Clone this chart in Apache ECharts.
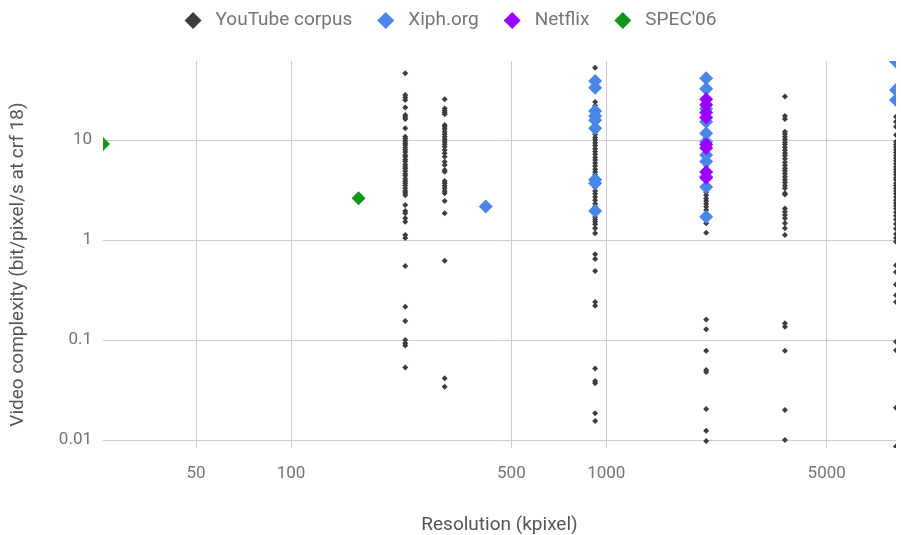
<!DOCTYPE html>
<html>
<head>
<meta charset="utf-8">
<script src="https://cdn.jsdelivr.net/npm/echarts@6/dist/echarts.min.js"></script>
<style>
  html, body { margin: 0; padding: 0; background: #fff; }
  #chart { width: 901px; height: 535px; }
</style>
</head>
<body>
<div id="chart"></div>
<script>
// resolutions in kpixel
var res4cif = 414.72, res360 = 230.4, res480 = 307.2, res720 = 921.6,
    res1080 = 2073.6, res1440 = 3686.4, res2160 = 8294.4;

// YouTube corpus, complexity per resolution column
var yt360 = [46.5, 28.2, 26.6, 25.1, 21.1, 17.8, 17.0, 16.2, 13.1, 10.8, 10.3, 9.8, 9.3, 8.9, 8.4, 8.0, 7.6, 7.1,
  6.8, 6.4, 6.1, 5.7, 5.4, 5.2, 4.9, 4.6, 4.4, 4.1, 3.9, 3.7, 3.5, 3.3, 3.1, 2.95, 2.8, 2.24, 1.95, 1.85, 1.65,
  1.52, 1.12, 1.05, 0.55, 0.215, 0.155, 0.1, 0.093, 0.088, 0.053];
var yt480 = [25.5, 20.7, 19.6, 18.9, 18.1, 14.1, 13.6, 12.9, 12.1, 11.4, 10.8, 10.2, 9.6, 9.06, 8.57, 7.94, 7.36,
  6.81, 6.07, 5.62, 5.01, 4.82, 3.89, 3.69, 3.49, 3.29, 3.09, 2.93, 2.45, 1.85, 0.62, 0.0414, 0.0341];
var yt720 = [52.8, 24, 22, 17, 14.5, 12.1, 11.4, 10.6, 10.0, 9.4, 8.8, 8.2, 7.7, 7.2, 6.7, 6.3, 5.9, 5.5, 5.1, 4.8,
  4.5, 4.2, 3.9, 3.6, 3.35, 3.1, 2.9, 2.7, 2.5, 2.3, 2.15, 2.0, 1.85, 1.7, 1.6, 1.52, 1.44, 1.31, 1.17, 0.72,
  0.645, 0.49, 0.24, 0.22, 0.052, 0.039, 0.037, 0.0185, 0.0155];
var yt1080 = [12, 9.2, 6.5, 5.5, 3.2, 3.0, 2.8, 2.6, 2.45, 2.3, 2.15, 2.0, 1.47, 1.18, 0.16, 0.128, 0.078, 0.05,
  0.048, 0.0204, 0.0124, 0.0098];
var yt1440 = [27.2, 17.4, 16.2, 12.1, 11.5, 10.8, 10.1, 9.5, 9.0, 8.4, 7.9, 7.4, 7.0, 6.5, 6.0, 5.6, 5.2, 4.9, 4.6,
  4.3, 4.0, 3.75, 3.5, 3.3, 2.93, 2.85, 2.07, 1.92, 1.78, 1.65, 1.47, 1.31, 1.12, 0.147, 0.136, 0.078, 0.02, 0.01];
var yt2160 = [17.1, 15.2, 13.6, 11.2, 9.6, 9.0, 8.5, 8.0, 7.5, 7.0, 6.6, 6.2, 5.8, 5.4, 5.1, 4.8, 4.5, 4.2, 4.0,
  3.7, 3.5, 3.3, 3.1, 2.9, 2.7, 2.5, 2.35, 2.2, 2.05, 1.9, 1.75, 1.6, 1.45, 1.3, 1.15, 1.05, 0.96, 0.56, 0.48,
  0.36, 0.28, 0.24, 0.096, 0.079, 0.021, 0.0086];

// Xiph.org
var xiph4cif = [2.17];
var xiph720 = [39, 33.3, 19.5, 17.4, 15.8, 13.1, 4.0, 3.7, 1.95];
var xiph1080 = [41.5, 32.5, 20.5, 15.2, 11.7, 9.6, 7.1, 6.1, 4.3, 3.4, 1.71];
var xiph2160 = [61, 31.6, 25.1];

// Netflix
var netflix1080 = [25.5, 22.5, 18.8, 16.8, 9.0, 8.3, 4.8, 4.2];

// SPEC'06
var specRes = [25.344, 163.84];
var specVal = [9.1, 2.61];

var xTicks = [50, 100, 500, 1000, 5000];
var yTicks = [0.01, 0.1, 1, 10];

function col(x, vals) {
    return vals.map(function (v) { return [x, v]; });
}

var ytData = [].concat(col(res360, yt360), col(res480, yt480), col(res720, yt720),
    col(res1080, yt1080), col(res1440, yt1440), col(res2160, yt2160));
var xiphData = [].concat(col(res4cif, xiph4cif), col(res720, xiph720),
    col(res1080, xiph1080), col(res2160, xiph2160));
var netflixData = col(res1080, netflix1080);
var specData = specRes.map(function (x, i) { return [x, specVal[i]]; });

var font = 'Roboto';
var gLeft = 103, gTop = 61, gWidth = 793, gHeight = 387;

// white masks so markers get cut at the plot edges
function mask(x, y, w, h) {
    return { type: 'rect', z: 100, silent: true, shape: { x: x, y: y, width: w, height: h }, style: { fill: '#fff' } };
}

var option = {
    animation: false,
    textStyle: { fontFamily: font },
    legend: {
        top: 6,
        left: 'center',
        icon: 'diamond',
        itemWidth: 17,
        itemHeight: 17,
        itemGap: 25,
        textStyle: { fontSize: 19, color: '#757575', fontFamily: font, padding: [0, 0, 0, 9] },
        data: ['YouTube corpus', 'Xiph.org', 'Netflix', "SPEC'06"]
    },
    grid: {
        left: gLeft, top: gTop, width: gWidth, height: gHeight,
        containLabel: false, outerBoundsMode: 'none'
    },
    graphic: [
        mask(gLeft - 9, gTop - 10, 9, gHeight + 20),
        mask(gLeft + gWidth, gTop - 10, 10, gHeight + 20),
        mask(gLeft - 9, gTop - 10, gWidth + 20, 10),
        mask(gLeft - 9, gTop + gHeight, gWidth + 20, 8)
    ],
    xAxis: {
        type: 'log',
        logBase: 10,
        min: 25.344,
        max: 8294.4,
        name: 'Resolution (kpixel)',
        nameLocation: 'middle',
        nameGap: 68,
        nameTextStyle: { fontSize: 19, color: '#555', fontFamily: font },
        axisLine: { show: false },
        axisTick: { show: false, customValues: xTicks },
        axisLabel: {
            customValues: xTicks,
            fontSize: 17, color: '#757575', margin: 17, fontFamily: font,
            formatter: function (v) { return String(v); }
        },
        splitLine: { show: true, lineStyle: { color: '#cccccc', width: 1 } }
    },
    yAxis: {
        type: 'log',
        logBase: 10,
        min: 0.00832,
        max: 61.7,
        name: 'Video complexity (bit/pixel/s at crf 18)',
        nameLocation: 'middle',
        nameGap: 75,
        nameTextStyle: { fontSize: 19, color: '#555', fontFamily: font, padding: [0, 20, 0, 0] },
        axisLine: { show: false },
        axisTick: { show: false, customValues: yTicks },
        axisLabel: {
            customValues: yTicks,
            fontSize: 17, color: '#757575', margin: 11, fontFamily: font,
            formatter: function (v) { return String(v); }
        },
        splitLine: { show: true, lineStyle: { color: '#cccccc', width: 1 } }
    },
    series: [
        {
            name: 'YouTube corpus', type: 'scatter', symbol: 'diamond', symbolSize: 6,
            itemStyle: { color: '#3d3d3d', opacity: 1 }, data: ytData
        },
        {
            name: 'Xiph.org', type: 'scatter', symbol: 'diamond', symbolSize: 14,
            itemStyle: { color: '#4a86e8', opacity: 1 }, data: xiphData
        },
        {
            name: 'Netflix', type: 'scatter', symbol: 'diamond', symbolSize: 14,
            itemStyle: { color: '#9900ff', opacity: 1 }, data: netflixData
        },
        {
            name: "SPEC'06", type: 'scatter', symbol: 'diamond', symbolSize: 14,
            itemStyle: { color: '#109618', opacity: 1 }, data: specData
        }
    ]
};

echarts.init(document.getElementById('chart')).setOption(option);
</script>
</body>
</html>
